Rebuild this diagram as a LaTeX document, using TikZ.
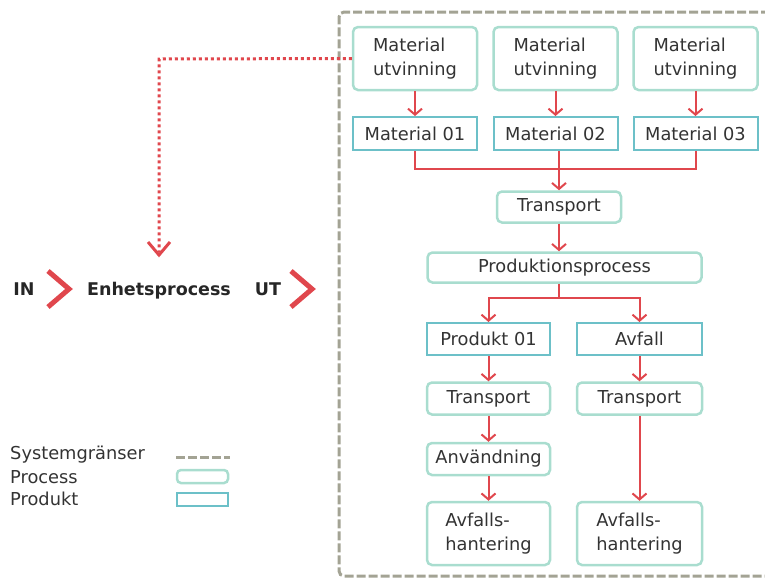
\documentclass[tikz,border=0pt]{standalone}
\usepackage{fontspec}
\setmainfont{DejaVu Sans}
\usetikzlibrary{arrows.meta,calc}
\definecolor{redc}{HTML}{E0474D}
\definecolor{procc}{HTML}{A9DDCF}
\definecolor{prodc}{HTML}{6CC0C8}
\definecolor{bordc}{HTML}{A3A394}
\definecolor{txtc}{HTML}{333333}
\tikzset{
  proc/.style={draw=procc, line width=2.5pt, rounded corners=5pt, align=center, inner sep=0pt, text=txtc, font=\fontsize{17.8}{24}\selectfont},
  prod/.style={draw=prodc, line width=2pt, align=center, inner sep=0pt, text=txtc, font=\fontsize{17.8}{24}\selectfont},
  flow/.style={draw=redc, line width=2pt, -{Straight Barb[length=6pt,width=14pt,line width=2pt]}},
  plain/.style={draw=redc, line width=2pt},
  boundary/.style={draw=bordc, line width=3pt, dash pattern=on 9pt off 3pt},
  chev/.style={draw=redc, line width=5pt, miter limit=10},
  lbl/.style={text=txtc, font=\fontsize{17.8}{20}\selectfont, inner sep=0pt},
  blbl/.style={text=black!85, font=\bfseries\fontsize{17.5}{20}\selectfont, inner sep=0pt}
}
\begin{document}
\begin{tikzpicture}[x=1pt,y=-1pt]
\useasboundingbox (0,0) rectangle (765,579);
% system boundary
\draw[boundary, rounded corners=5pt] (770,12) -- (339,12) -- (339,576) -- (770,576);
% top row
\node[proc, minimum width=124pt, minimum height=63pt, align=left] (mu1) at (415,58.5) {Material\\utvinning};
\node[proc, minimum width=124pt, minimum height=63pt, align=left] (mu2) at (555.5,58.5) {Material\\utvinning};
\node[proc, minimum width=124pt, minimum height=63pt, align=left] (mu3) at (695.5,58.5) {Material\\utvinning};
\node[prod, minimum width=124pt, minimum height=33pt] (m1) at (415,133.5) {Material 01};
\node[prod, minimum width=124pt, minimum height=33pt] (m2) at (555.5,133.5) {Material 02};
\node[prod, minimum width=124pt, minimum height=33pt] (m3) at (695.5,133.5) {Material 03};
\node[proc, minimum width=124pt, minimum height=31pt] (tr) at (559,207) {Transport};
\node[proc, minimum width=274pt, minimum height=30pt] (pp) at (564.5,267.5) {Produktionsprocess};
\node[prod, minimum width=123pt, minimum height=32pt] (p01) at (488.5,339) {Produkt 01};
\node[prod, minimum width=125pt, minimum height=32pt] (avf) at (639.5,339) {Avfall};
\node[proc, minimum width=123pt, minimum height=32pt] (t1) at (488.5,398.5) {Transport};
\node[proc, minimum width=125pt, minimum height=32pt] (t2) at (639.5,398.5) {Transport};
\node[proc, minimum width=123pt, minimum height=32pt] (anv) at (488.5,459) {Användning};
\node[proc, minimum width=123pt, minimum height=63pt, align=left] (ah1) at (488.5,533.5) {Avfalls-\\hantering};
\node[proc, minimum width=125pt, minimum height=63pt, align=left] (ah2) at (639.5,533.5) {Avfalls-\\hantering};
% connectors
\draw[flow] (mu1) -- (m1);
\draw[flow] (mu2) -- (m2);
\draw[flow] (mu3) -- (m3);
\draw[plain] (m1.south) -- ++(0,18) -| (m3.south);
\draw[flow] (tr.north |- m2.south) -- (tr.north);
\draw[flow] (tr.south) -- (tr.south |- pp.north);
\draw[plain] (tr.south |- pp.south) -- ++(0,14) coordinate (sp);
\draw[flow] (sp) -| (p01.north);
\draw[flow] (sp) -| (avf.north);
\draw[flow] (p01) -- (t1);
\draw[flow] (t1) -- (anv);
\draw[flow] (anv) -- (ah1);
\draw[flow] (avf) -- (t2);
\draw[flow] (t2) -- (ah2);
% left part
\node[blbl, anchor=base] (in) at (24,295) {IN};
\node[blbl, anchor=base] (enh) at (159,295) {Enhetsprocess};
\node[blbl, anchor=base] (ut) at (268,295) {UT};
\draw[chev] (48,271) -- (69,289) -- (48,307);
\draw[chev] (291,271) -- (312,289) -- (291,307);
\coordinate (dotend) at (159,255);
\draw[draw=redc, line width=3pt, dash pattern=on 3pt off 3pt] (mu1.west) -- (159,59) -- ($(dotend)+(0,-3)$);
\draw[draw=redc, line width=3pt] ($(dotend)+(-11,-13)$) -- (dotend) -- ($(dotend)+(11,-13)$);
% legend
\node[lbl, anchor=west] (l1) at (10,455) {Systemgränser};
\node[lbl, anchor=west] (l2) at (10,477) {Process};
\node[lbl, anchor=west] (l3) at (10,499) {Produkt};
\draw[boundary] (176,457) -- (230,457);
\draw[draw=procc, line width=2.5pt, rounded corners=4pt] (177,470) rectangle (228,483);
\draw[draw=prodc, line width=2pt] (177,493) rectangle (228,506);
\end{tikzpicture}
\end{document}
